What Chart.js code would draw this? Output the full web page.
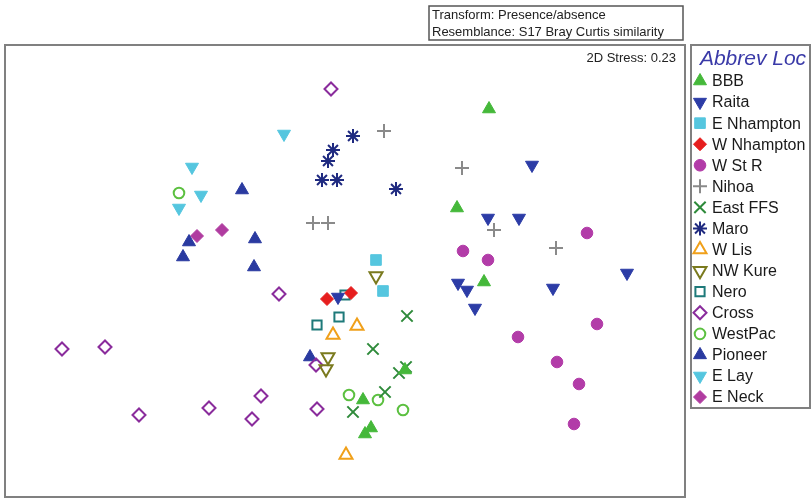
<!DOCTYPE html>
<html>
<head>
<meta charset="utf-8">
<script src="https://cdn.jsdelivr.net/npm/chart.js@4.4.0/dist/chart.umd.min.js"></script>
<style>
html, body { margin: 0; padding: 0; background: #fff; }
#wrap { width: 812px; height: 498px; }
</style>
</head>
<body>
<div id="wrap"><canvas id="mds" width="812" height="498"></canvas></div>
<script>
// nMDS ordination, points as [MDS1, MDS2]
const bbb = [[1.44, 1.62], [1.12, 0.63], [1.39, -0.11], [0.60, -0.99], [0.18, -1.29], [0.26, -1.57], [0.20, -1.63]];
const raita = [[1.87, 1.06], [1.43, 0.53], [1.74, 0.53], [1.13, -0.12], [1.22, -0.19], [1.30, -0.37], [2.08, -0.17], [2.82, -0.02], [-0.07, -0.26]];
const eNhampton = [[0.31, 0.11], [0.38, -0.20]];
const wNhampton = [[-0.18, -0.28], [0.06, -0.22]];
const wStR = [[2.42, 0.38], [1.18, 0.20], [1.43, 0.11], [2.52, -0.53], [1.73, -0.66], [2.12, -0.91], [2.34, -1.13], [2.29, -1.53]];
const nihoa = [[0.39, 1.40], [1.17, 1.03], [1.49, 0.41], [2.11, 0.23], [-0.32, 0.48], [-0.17, 0.48]];
const eastFFS = [[0.62, -0.45], [0.28, -0.78], [0.61, -0.96], [0.54, -1.02], [0.40, -1.21], [0.08, -1.41]];
const maro = [[0.08, 1.35], [-0.12, 1.21], [-0.17, 1.10], [-0.23, 0.91], [-0.08, 0.91], [0.51, 0.82]];
const wLis = [[0.12, -0.55], [-0.12, -0.64], [0.01, -1.84]];
const nwKure = [[0.31, -0.05], [-0.17, -0.86], [-0.19, -0.98]];
const nero = [[0.00, -0.24], [-0.06, -0.46], [-0.28, -0.54]];
const cross = [[-0.14, 1.82], [-0.66, -0.23], [-2.83, -0.78], [-2.40, -0.76], [-2.06, -1.44], [-1.36, -1.37], [-0.84, -1.25], [-0.93, -1.48], [-0.28, -1.38], [-0.29, -0.94]];
const westPac = [[-1.66, 0.78], [0.04, -1.24], [0.33, -1.29], [0.58, -1.39]];
const pioneer = [[-1.03, 0.81], [-1.56, 0.29], [-1.62, 0.14], [-0.90, 0.32], [-0.91, 0.04], [-0.35, -0.86]];
const eLay = [[-0.61, 1.37], [-1.53, 1.04], [-1.44, 0.76], [-1.66, 0.63]];
const eNeck = [[-1.48, 0.35], [-1.23, 0.41]];

const stressText = '2D Stress: 0.23';
const infoLines = ['Transform: Presence/absence', 'Resemblance: S17 Bray Curtis similarity'];
const legendTitle = 'Abbrev Loc';

// name, points, shape, colour, filled, radius, rotation
const series = [
    ['BBB', bbb, 'triangle', '#45b83a', true, 7.5, 0],
    ['Raita', raita, 'triangle', '#2c3ca6', true, 7.5, 180],
    ['E Nhampton', eNhampton, 'rect', '#55c6df', true, 7.5, 0],
    ['W Nhampton', wNhampton, 'rectRot', '#e61e1e', true, 6.5, 0],
    ['W St R', wStR, 'circle', '#b23ca8', true, 5.8, 0],
    ['Nihoa', nihoa, 'cross', '#8a8a8a', false, 7, 0],
    ['East FFS', eastFFS, 'crossRot', '#2e8a3a', false, 8, 0],
    ['Maro', maro, 'star', '#1f2a80', false, 7, 0],
    ['W Lis', wLis, 'triangle', '#f0a01a', false, 7.5, 0],
    ['NW Kure', nwKure, 'triangle', '#7a7a1e', false, 7.5, 180],
    ['Nero', nero, 'rect', '#1e7a7a', false, 6.5, 0],
    ['Cross', cross, 'rectRot', '#8a2c9c', false, 6.5, 0],
    ['WestPac', westPac, 'circle', '#5cc040', false, 5.3, 0],
    ['Pioneer', pioneer, 'triangle', '#2a3aa0', true, 7.5, 0],
    ['E Lay', eLay, 'triangle', '#55c6df', true, 7.5, 180],
    ['E Neck', eNeck, 'rectRot', '#b03ca0', true, 6.5, 0]
];

const datasets = series.map(s => ({
    label: s[0],
    data: s[1].map(p => ({ x: p[0], y: p[1] })),
    pointStyle: s[2],
    pointRadius: s[5],
    pointHoverRadius: s[5],
    pointRotation: s[6],
    borderColor: s[3],
    backgroundColor: s[4] ? s[3] : 'rgba(0,0,0,0)',
    pointBorderWidth: s[4] ? 1 : 2,
    showLine: false
}));

const decorPlugin = {
    id: 'decor',
    afterDraw(chart) {
        const ctx = chart.ctx;
        const a = chart.chartArea;
        ctx.save();
        // plot frame
        ctx.strokeStyle = '#808080';
        ctx.lineWidth = 2;
        ctx.strokeRect(a.left, a.top, a.right - a.left, a.bottom - a.top);

        // stress
        ctx.fillStyle = '#222';
        ctx.font = '13px "Liberation Sans", Arial, sans-serif';
        ctx.textAlign = 'right';
        ctx.textBaseline = 'middle';
        ctx.fillText(stressText, a.right - 9, a.top + 13);

        // transform box
        ctx.strokeStyle = '#555';
        ctx.lineWidth = 1.5;
        ctx.strokeRect(429, 6, 254, 34);
        ctx.textAlign = 'left';
        ctx.font = '13px "Liberation Sans", Arial, sans-serif';
        ctx.fillText(infoLines[0], 432, 15);
        ctx.fillText(infoLines[1], 432, 32);

        // legend box
        ctx.strokeStyle = '#808080';
        ctx.lineWidth = 2;
        ctx.strokeRect(691, a.top, 119, 363);
        ctx.fillStyle = '#3a3aa8';
        ctx.font = 'italic 21px "Liberation Sans", Arial, sans-serif';
        ctx.textAlign = 'center';
        ctx.fillText(legendTitle, 753, 59);

        ctx.textAlign = 'left';
        ctx.font = '16px "Liberation Sans", Arial, sans-serif';
        chart.data.datasets.forEach((ds, i) => {
            const y = 81 + i * 21.07;
            ctx.fillStyle = ds.backgroundColor;
            ctx.strokeStyle = ds.borderColor;
            ctx.lineWidth = ds.pointBorderWidth;
            Chart.helpers.drawPoint(ctx, {
                pointStyle: ds.pointStyle,
                rotation: ds.pointRotation,
                radius: ds.pointRadius,
                borderWidth: ds.pointBorderWidth
            }, 700, y);
            ctx.fillStyle = '#1a1a1a';
            ctx.fillText(ds.label, 712, y + 1);
        });
        ctx.restore();
    }
};

new Chart(document.getElementById('mds'), {
    type: 'scatter',
    data: { datasets: datasets },
    options: {
        responsive: false,
        animation: false,
        layout: { autoPadding: false, padding: { left: 5, top: 45, right: 127, bottom: 1 } },
        scales: {
            x: { display: false, min: -3.4, max: 3.4 },
            y: { display: false, min: -2.26, max: 2.26 }
        },
        plugins: {
            legend: { display: false },
            tooltip: { enabled: false }
        }
    },
    plugins: [decorPlugin]
});
</script>
</body>
</html>
